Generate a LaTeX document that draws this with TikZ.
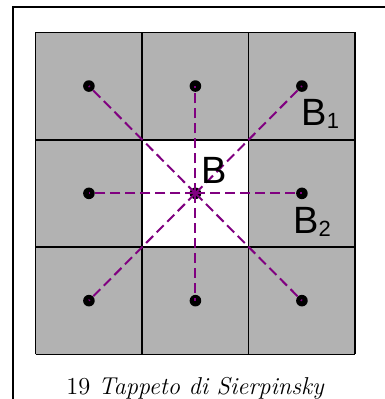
\documentclass[tikz,border=0pt]{standalone}
\usepackage{fontspec}
\newfontfamily\labelfont{Liberation Sans}
\definecolor{linkpurple}{RGB}{128,0,128}
\newcommand{\lowsub}[1]{\raisebox{-1.8pt}{\fontsize{11}{12}\selectfont #1}}

\begin{document}
\begin{tikzpicture}[x=53.25pt,y=53.65pt,
    dot/.style={circle,fill=black,inner sep=0pt,minimum size=5.8pt},
    link/.style={draw=linkpurple,dash pattern=on 5pt off 2.5pt,line width=1pt},
    lab/.style={font=\labelfont\fontsize{19}{21}\selectfont,inner sep=0pt,anchor=base west}]
        \useasboundingbox (-0.335,-0.4166) rectangle (3.28,3.302);
        % Frame
        \draw[line width=1.3pt] (-0.213,-0.4166) -- (-0.213,3.237) -- (3.28,3.237);
        
        % Carpet
        \fill[black!30] (0,0) rectangle (3,3);
        \fill[white] (1,1) rectangle (2,2);
        \foreach \i in {0,...,3} {
          \draw[line width=0.8pt] (\i,0) -- (\i,3);
          \draw[line width=0.8pt] (0,\i) -- (3,\i);
        }
        
        % Centres
        \foreach \i in {0,1,2}
        \foreach \j in {0,1,2}
        \node[dot] (d\i\j) at (\i+0.5,\j+0.5) {};
        
        % Links from the centre
        \foreach \i/\j in {0/0,0/1,0/2,1/0,1/2,2/0,2/1,2/2}
        \draw[link] (d11.center) -- (d\i\j.center);
        
        % Labels
        \node[lab] (b) at (1.554,1.59) {B};
        \node[lab] (b1) at (2.492,2.136) {B\lowsub{1}};
        \node[lab] (b2) at (2.416,1.13) {B\lowsub{2}};
        
        % Caption
        \node[font=\fontsize{12.2}{14}\selectfont,anchor=base,inner sep=0pt] (cap) at (1.5,-0.378) {19 \textit{Tappeto di Sierpinsky}};
      \end{tikzpicture}
\end{document}
